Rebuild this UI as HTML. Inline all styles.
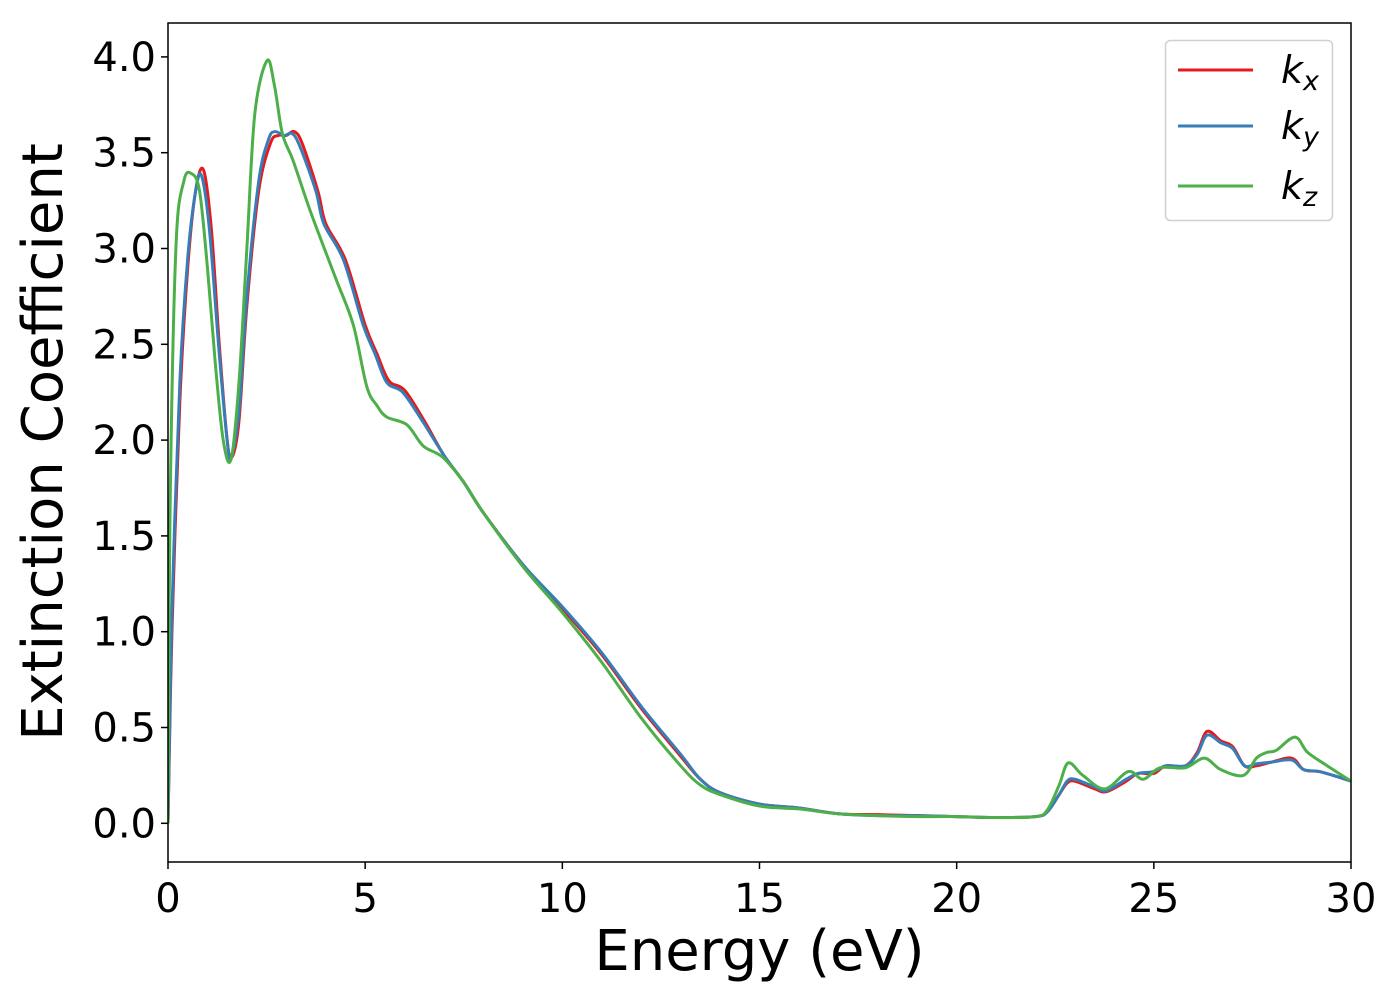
<!DOCTYPE html>
<html><head><meta charset="utf-8"><style>
body{margin:0;background:#fff;}
svg text{font-family:"DejaVu Sans","Liberation Sans",sans-serif;}
</style></head><body>
<svg id="chart" width="1400" height="1000" xmlns="http://www.w3.org/2000/svg">
<rect width="1400" height="1000" fill="#fff"/>
<g id="plot"></g>
<g id="axes"></g>
<text x="759.5" y="970" font-size="56" text-anchor="middle">Energy (eV)</text>
<text transform="translate(62,442) rotate(-90)" font-size="56" text-anchor="middle">Extinction Coefficient</text>
<g>
<rect x="1165.5" y="40.5" width="167" height="180" rx="5" fill="#fff" stroke="#d0d0d0" stroke-width="1.5"/>
<g><line x1="1178" y1="70" x2="1253" y2="70" stroke="#e41a1c" stroke-width="3"/><text x="1281" y="83" font-size="38" font-style="italic">k<tspan font-size="27" dy="7">x</tspan></text></g>
<g><line x1="1178" y1="126" x2="1253" y2="126" stroke="#377eb8" stroke-width="3"/><text x="1281" y="139" font-size="38" font-style="italic">k<tspan font-size="27" dy="7">y</tspan></text></g>
<g><line x1="1178" y1="186" x2="1253" y2="186" stroke="#4daf4a" stroke-width="3"/><text x="1281" y="199" font-size="38" font-style="italic">k<tspan font-size="27" dy="7">z</tspan></text></g>
</g>
</svg>
<script>
const xTicks=[0,5,10,15,20,25,30];
const yTicks=[0.0,0.5,1.0,1.5,2.0,2.5,3.0,3.5,4.0];
const yTickLabels=["0.0","0.5","1.0","1.5","2.0","2.5","3.0","3.5","4.0"];
const kxE=[0,0.1,0.3,0.5,0.7,0.9,1.1,1.3,1.5,1.62,1.8,2.0,2.3,2.6,2.8,3.0,3.2,3.4,3.8,4.0,4.5,5.0,5.3,5.6,6.0,6.5,7.0,7.5,8,9,10,11,12,13,13.5,14,15,16,17,18,19,20,21,22,22.3,22.6,22.8,23.0,23.5,23.8,24.3,24.6,25.0,25.3,25.8,26.1,26.35,26.7,27.0,27.3,27.6,28.0,28.5,28.8,29.2,29.7,30];
const kxV=[0,1.0,2.2,2.9,3.3,3.41,3.1,2.5,2.0,1.91,2.1,2.7,3.3,3.55,3.59,3.59,3.61,3.55,3.3,3.13,2.94,2.6,2.45,2.31,2.26,2.1,1.92,1.78,1.62,1.35,1.12,0.88,0.6,0.35,0.23,0.16,0.1,0.08,0.05,0.045,0.04,0.035,0.03,0.035,0.06,0.15,0.21,0.22,0.18,0.165,0.22,0.26,0.26,0.3,0.3,0.37,0.48,0.43,0.4,0.3,0.3,0.32,0.34,0.28,0.27,0.24,0.22];
const kyE=[0,0.1,0.3,0.5,0.7,0.85,1.05,1.3,1.5,1.6,1.8,2.0,2.3,2.55,2.71,2.95,3.15,3.35,3.75,3.95,4.45,4.95,5.25,5.55,5.95,6.45,7.0,7.5,8,9,10,11,12,13,13.5,14,15,16,17,18,19,20,21,22,22.3,22.6,22.8,23.0,23.5,23.8,24.3,24.6,25.0,25.3,25.8,26.1,26.35,26.7,27.0,27.3,27.6,28.0,28.5,28.8,29.2,29.7,30];
const kyV=[0,1.1,2.3,2.95,3.3,3.38,3.1,2.45,2.0,1.91,2.15,2.75,3.35,3.57,3.61,3.59,3.6,3.53,3.3,3.13,2.94,2.6,2.45,2.3,2.25,2.1,1.92,1.78,1.62,1.35,1.13,0.89,0.61,0.36,0.23,0.16,0.1,0.08,0.05,0.04,0.04,0.035,0.03,0.035,0.06,0.15,0.22,0.23,0.19,0.17,0.23,0.26,0.27,0.3,0.3,0.36,0.46,0.42,0.39,0.3,0.31,0.32,0.33,0.28,0.27,0.24,0.22];
const kzE=[0,0.05,0.2,0.4,0.6,0.8,1.0,1.2,1.4,1.6,1.8,2.0,2.2,2.51,2.7,2.9,3.17,3.6,4.02,4.28,4.7,5.04,5.3,5.55,6.06,6.47,6.97,7.5,8,9,10,11,12,13,13.5,14,15,16,17,18,19,20,21,22,22.3,22.6,22.83,23.2,23.76,24.35,24.73,25.16,25.8,26.28,26.7,27.27,27.6,27.87,28.1,28.58,28.9,29.4,30];
const kzV=[0,1.6,3.0,3.35,3.39,3.3,2.9,2.4,2.0,1.9,2.3,3.0,3.7,3.98,3.85,3.6,3.46,3.2,2.97,2.83,2.6,2.28,2.18,2.12,2.08,1.97,1.91,1.78,1.62,1.34,1.1,0.84,0.55,0.3,0.2,0.15,0.09,0.075,0.05,0.04,0.035,0.035,0.03,0.035,0.07,0.2,0.315,0.25,0.18,0.27,0.23,0.29,0.29,0.34,0.28,0.25,0.34,0.37,0.38,0.45,0.37,0.3,0.22];
const L=168,R=1351,T=23,B=862;
const X=e=>L+(e/30)*(R-L);
const Y=v=>823.3-191.6*v;
const NS="http://www.w3.org/2000/svg";
function mk(tag,attrs,parent){const el=document.createElementNS(NS,tag);for(const k in attrs)el.setAttribute(k,attrs[k]);parent.appendChild(el);return el;}
const axes=document.getElementById('axes'),plot=document.getElementById('plot');
function pathFor(E,V){const p=E.map((e,i)=>[X(e),Y(V[i])]);let d=`M${p[0][0]},${p[0][1]}`;
for(let i=0;i<p.length-1;i++){const p0=p[Math.max(0,i-1)],p1=p[i],p2=p[i+1],p3=p[Math.min(p.length-1,i+2)];
const c1=[p1[0]+(p2[0]-p0[0])/6,p1[1]+(p2[1]-p0[1])/6],c2=[p2[0]-(p3[0]-p1[0])/6,p2[1]-(p3[1]-p1[1])/6];
c1[0]=Math.min(Math.max(c1[0],p1[0]),p2[0]);c2[0]=Math.min(Math.max(c2[0],p1[0]),p2[0]);
d+=`C${c1[0]},${c1[1]} ${c2[0]},${c2[1]} ${p2[0]},${p2[1]}`;}return d;}
mk('defs',{},plot).innerHTML='<clipPath id="cp"><rect x="168" y="23" width="1183" height="839"/></clipPath>';
const series=[["kx",kxE,kxV,"#e41a1c"],["ky",kyE,kyV,"#377eb8"],["kz",kzE,kzV,"#4daf4a"]];
for(const s of series){const el=mk('path',{d:pathFor(s[1],s[2]),fill:'none',stroke:s[3],'stroke-width':3,'clip-path':'url(#cp)'},plot);

}
const fr=mk('rect',{x:L,y:T,width:R-L,height:B-T,fill:'none',stroke:'#000','stroke-width':1.5},axes);


xTicks.forEach(t=>{mk('line',{x1:X(t),x2:X(t),y1:B,y2:B+7,stroke:'#000','stroke-width':1.5},axes);
const tx=mk('text',{x:X(t),y:B+50,'font-size':40,'text-anchor':'middle'},axes);tx.textContent=t;

});
yTicks.forEach((t,i)=>{mk('line',{x1:L-7,x2:L,y1:Y(t),y2:Y(t),stroke:'#000','stroke-width':1.5},axes);
const tx=mk('text',{x:L-12,y:Y(t)+14,'font-size':40,'text-anchor':'end'},axes);tx.textContent=yTickLabels[i];

});
</script>
</body></html>
